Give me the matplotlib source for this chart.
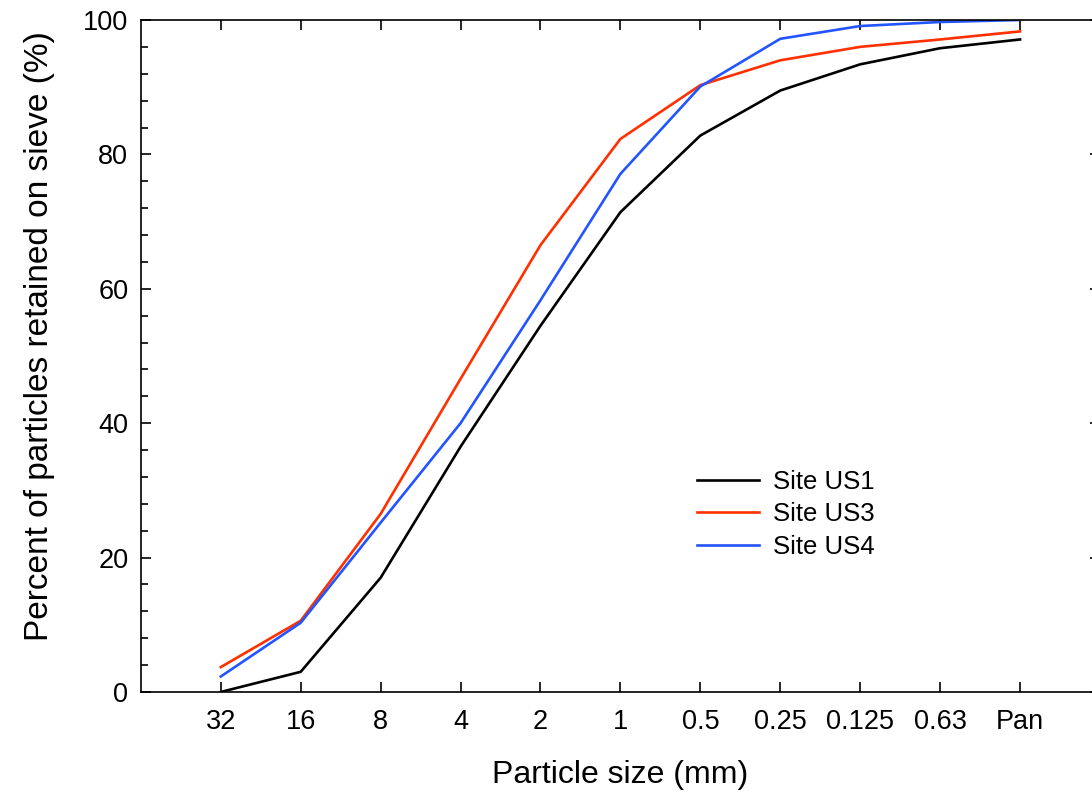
# Sieve analysis: cumulative percent retained vs particle size for three sites

import matplotlib.pyplot as plt
from matplotlib.ticker import MultipleLocator

plt.rcParams['font.family'] = ['Liberation Sans', 'DejaVu Sans']

# sieve sizes (mm), evenly spaced categories
sizes = ['32', '16', '8', '4', '2', '1', '0.5', '0.25', '0.125', '0.63', 'Pan']

# cumulative percent retained on each sieve
us1 = [0.0, 3.0, 17.0, 36.5, 54.5, 71.4, 82.8, 89.5, 93.4, 95.8, 97.1]
us3 = [3.7, 10.6, 26.5, 46.6, 66.5, 82.3, 90.3, 94.0, 96.0, 97.1, 98.3]
us4 = [2.3, 10.3, 25.2, 40.0, 58.3, 77.1, 90.1, 97.2, 99.1, 99.7, 100.0]

x = list(range(len(sizes)))

fig = plt.figure(figsize=(10.92, 7.93), dpi=100)
ax = fig.add_axes([0.129, 0.1274, 0.8783, 0.8474])

ax.plot(x, us1, color='black', lw=1.9, label='Site US1')
ax.plot(x, us3, color='#ff3000', lw=1.9, label='Site US3')
ax.plot(x, us4, color='#2255ff', lw=1.9, label='Site US4')

ax.set_xlim(-1, 11)
ax.set_ylim(0, 100)
ax.set_xticks(x)
ax.set_xticklabels(sizes)
ax.yaxis.set_major_locator(MultipleLocator(20))
ax.yaxis.set_minor_locator(MultipleLocator(4))

ax.tick_params(axis='both', which='both', direction='in', top=True, right=True,
               labelsize=19.5, width=1.2)
ax.tick_params(axis='y', which='major', length=7, pad=9)
ax.tick_params(axis='y', which='minor', length=5)
ax.tick_params(axis='x', which='major', length=7, pad=12)
for s in ax.spines.values():
    s.set_linewidth(1.2)

ax.set_xlabel('Particle size (mm)', fontsize=23, labelpad=18)
ax.set_ylabel('Percent of particles retained on sieve (%)', fontsize=24, labelpad=20)
ax.yaxis.label.set_y(0.53)

ax.legend(loc='upper left', bbox_to_anchor=(0.58, 0.33), frameon=False,
          fontsize=18.5, handlelength=2.4, handletextpad=0.55, labelspacing=0.32,
          borderpad=0, borderaxespad=0)

plt.savefig('out.png', dpi=100)
plt.close()
